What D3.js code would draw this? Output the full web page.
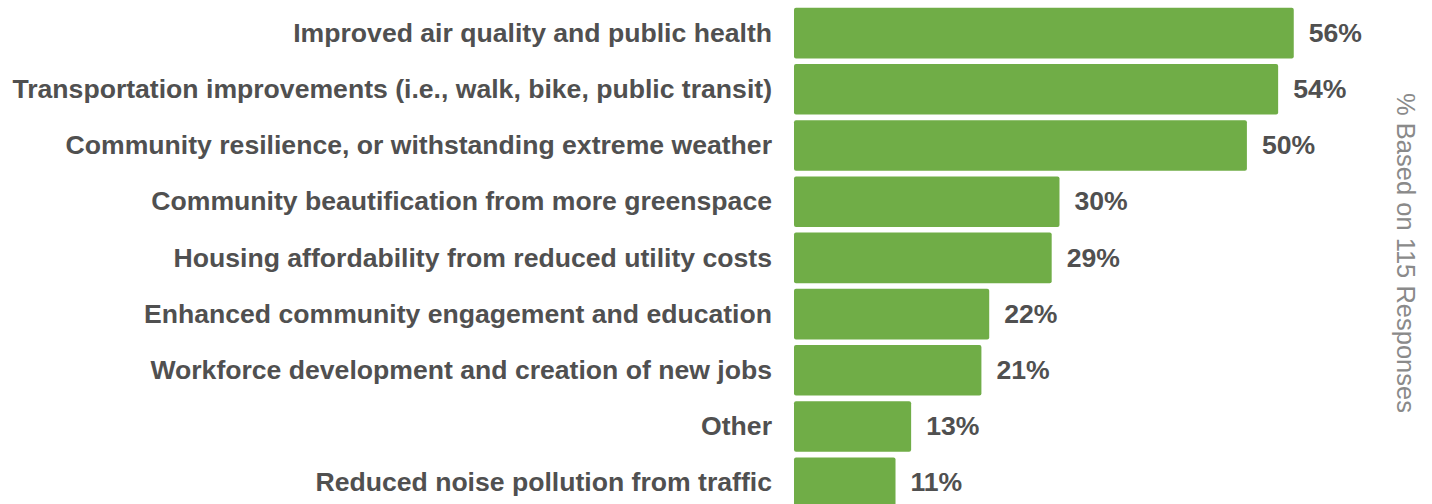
<!DOCTYPE html>
<html><head><meta charset="utf-8">
<script src="https://cdn.jsdelivr.net/npm/d3@7"></script>
<style>html,body{margin:0;padding:0;background:#fff;}svg{display:block;}</style>
</head><body>
<svg id="c" width="1432" height="504"></svg>
<script>
const categories = [
  "Improved air quality and public health",
  "Transportation improvements (i.e., walk, bike, public transit)",
  "Community resilience, or withstanding extreme weather",
  "Community beautification from more greenspace",
  "Housing affordability from reduced utility costs",
  "Enhanced community engagement and education",
  "Workforce development and creation of new jobs",
  "Other",
  "Reduced noise pollution from traffic"
];
const responses = [64, 62, 58, 34, 33, 25, 24, 15, 13];
const totalResponses = 115;
const axisTitle = "% Based on 115 Responses";

const data = categories.map((c, i) => ({cat: c, n: responses[i], pct: responses[i] / totalResponses * 100}));

const svg = d3.select("#c");
const x = d3.scaleLinear().domain([0, 100]).range([794, 794 + 898]);
const y = d3.scaleBand().domain(categories).range([5, 5 + 56.2 * 9]).paddingInner(0.1).paddingOuter(0.05);

const font = "'Liberation Sans', Arial, sans-serif";

svg.selectAll("rect.bar").data(data).enter().append("rect")
  .attr("class", "bar")
  .attr("x", x(0))
  .attr("y", d => y(d.cat))
  .attr("width", d => x(d.pct) - x(0))
  .attr("height", y.bandwidth())
  .attr("rx", 2).attr("ry", 2)
  .attr("fill", "#70ad47");

svg.selectAll("text.cat").data(data).enter().append("text")
  .attr("class", "cat")
  .attr("x", 772)
  .attr("y", d => y(d.cat) + y.bandwidth() / 2)
  .attr("dy", "0.33em")
  .attr("text-anchor", "end")
  .style("font-family", font).style("font-weight", "bold").style("font-size", "26.6px")
  .attr("fill", "#505050")
  .text(d => d.cat);

svg.selectAll("text.val").data(data).enter().append("text")
  .attr("class", "val")
  .attr("x", d => x(d.pct) + 15)
  .attr("y", d => y(d.cat) + y.bandwidth() / 2)
  .attr("dy", "0.33em")
  .style("font-family", font).style("font-weight", "bold").style("font-size", "26.6px")
  .attr("fill", "#505050")
  .text(d => Math.round(d.pct) + "%");

svg.append("text")
  .attr("transform", "translate(1397,253) rotate(90)")
  .attr("text-anchor", "middle")
  .style("font-family", font).style("font-size", "25.5px")
  .attr("fill", "#8a8a8a")
  .text(axisTitle);
</script>
</body></html>
